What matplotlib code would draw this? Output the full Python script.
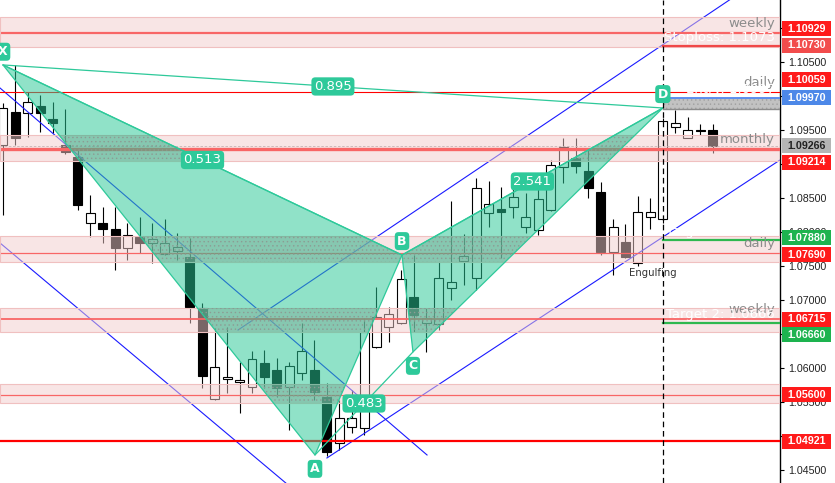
import numpy as np
import matplotlib
matplotlib.use('Agg')
import matplotlib.pyplot as plt
from matplotlib.patches import Rectangle, Polygon

# ---- candles (one per bar, left to right) ----
opens = [1.09275, 1.09760, 1.09746, 1.09849, 1.09657, 1.09275, 1.09099, 1.08128, 1.08128, 1.08040,
         1.07760, 1.07922, 1.07834, 1.07672, 1.07716, 1.07628, 1.06878, 1.05540, 1.05834, 1.05790,
         1.05716, 1.06069, 1.05966, 1.05716, 1.05922, 1.05966, 1.05569, 1.04893, 1.05128, 1.05113,
         1.06304, 1.06599, 1.06657, 1.07040, 1.06657, 1.06643, 1.07172, 1.07569, 1.07319, 1.08275,
         1.08334, 1.08363, 1.08069, 1.08025, 1.08319, 1.08952, 1.09084, 1.08893, 1.08584, 1.07702,
         1.07849, 1.07540, 1.08216, 1.08187, 1.09540, 1.09378, 1.09481, 1.09496]
highs = [1.09893, 1.10452, 1.10054, 1.10010, 1.09907, 1.09805, 1.09202, 1.08540, 1.08363, 1.08363,
         1.08128, 1.08216, 1.08128, 1.08187, 1.07981, 1.07907, 1.06952, 1.06584, 1.06599, 1.06084,
         1.06246, 1.06260, 1.06143, 1.06084, 1.06657, 1.06407, 1.05775, 1.05525, 1.05672, 1.06731,
         1.07187, 1.06893, 1.07437, 1.07657, 1.06878, 1.07554, 1.08452, 1.07966, 1.08790, 1.08746,
         1.08657, 1.08716, 1.08569, 1.08643, 1.09054, 1.09378, 1.09378, 1.09231, 1.08731, 1.08187,
         1.08113, 1.08525, 1.08496, 1.09672, 1.09790, 1.09687, 1.09584, 1.09584]
lows = [1.08246, 1.09275, 1.09393, 1.09466, 1.09452, 1.09143, 1.08319, 1.07922, 1.07834, 1.07437,
        1.07584, 1.07687, 1.07540, 1.07657, 1.07584, 1.06657, 1.05702, 1.05525, 1.05628, 1.05334,
        1.05628, 1.05702, 1.05569, 1.05084, 1.05819, 1.05525, 1.04702, 1.04790, 1.05040, 1.05010,
        1.06290, 1.06378, 1.06643, 1.06525, 1.06231, 1.06554, 1.06996, 1.07216, 1.07143, 1.08069,
        1.07613, 1.08202, 1.07981, 1.07952, 1.08304, 1.08716, 1.08863, 1.08496, 1.07657, 1.07363,
        1.07613, 1.07496, 1.08040, 1.08128, 1.09452, 1.09378, 1.09422, 1.09157]
closes = [1.09819, 1.09378, 1.09907, 1.09746, 1.09599, 1.09172, 1.08393, 1.08275, 1.08040, 1.07760,
          1.07952, 1.07834, 1.07893, 1.07834, 1.07775, 1.06893, 1.05878, 1.06010, 1.05863, 1.05819,
          1.06128, 1.05863, 1.05702, 1.06025, 1.06246, 1.05643, 1.04760, 1.05260, 1.05260, 1.06525,
          1.06746, 1.06790, 1.07304, 1.06775, 1.06731, 1.07319, 1.07260, 1.07643, 1.08643, 1.08407,
          1.08290, 1.08510, 1.08216, 1.08481, 1.08981, 1.09246, 1.08966, 1.08643, 1.07702, 1.08069,
          1.07628, 1.08290, 1.08290, 1.09628, 1.09599, 1.09496, 1.09478, 1.09266]

# ---- support / resistance zones ----
zone_lo = [1.10716, 1.09040, 1.07559, 1.06529, 1.05476]
zone_hi = [1.11157, 1.09422, 1.07937, 1.06874, 1.05760]
red_levels = [1.10929, 1.10059, 1.09214, 1.07690, 1.06715, 1.05600, 1.04921]
red_widths = [1.6, 0.8, 2.4, 0.9, 1.3, 0.9, 1.6]
zone_names = ["weekly", "daily", "monthly", "daily", "weekly"]
zone_name_levels = [1.10929, 1.10059, 1.09214, 1.07690, 1.06715]
current_price = 1.09266

# ---- trade setup ----
stoploss = 1.1073
entry_hi, entry_lo = 1.0997, 1.0980
target1 = 1.0788
target2 = 1.0666

# ---- harmonic pattern XABCD (bar index, price) ----
pat_names = ["X", "A", "B", "C", "D"]
pat_x = [0.0, 25.06, 32.05, 32.93, 53.0]
pat_y = [1.10452, 1.04716, 1.07657, 1.06231, 1.09819]
ratio_legs = [(0, 2, "0.513"), (1, 3, "0.483"), (2, 4, "2.541"), (0, 4, "0.895")]

# ---- trend lines (bar index, price) ----
trend_lines = [
    ((-0.24, 1.10113), (34.06, 1.04716)),
    ((-0.24, 1.07834), (23.86, 1.04128)),
    ((18.88, 1.06554), (62.41, 1.11907)),
    ((26.02, 1.04672), (62.41, 1.09054)),
]

# ---- price labels on the axis ----
label_vals = [1.10929, 1.10730, 1.10059, 1.09970, 1.09266, 1.09214,
              1.07880, 1.07690, 1.06715, 1.06660, 1.05600, 1.04921]
label_cols = ['#ff1a1a', '#f24c4c', '#ff1a1a', '#4d88e8', '#b5b5b5', '#ff1a1a',
              '#1db34f', '#ff1a1a', '#ff1a1a', '#1db34f', '#ff1a1a', '#ff1a1a']
label_shift_px = [-4, -1, -12, 0, 0, 13, -2, 2, 0, 12, 0, 0]
tick_vals = np.round(np.arange(1.045, 1.1101, 0.005), 3)
hidden_ticks = [1.050, 1.065, 1.090, 1.100, 1.110]   # sit fully under a price tag

W, H = 835, 483
ymin, ymax = 1.04304, 1.11407
xmin, xmax = -0.24, 62.41
px = (ymax - ymin) / H   # price per pixel

fig = plt.figure(figsize=(W / 100, H / 100), dpi=100)
ax = fig.add_axes([0, 0, 780 / W, 1])
ax.set_xlim(xmin, xmax)
ax.set_ylim(ymin, ymax)

# candles
bw = 0.72
for i in range(len(opens)):
    o, h, l, c = opens[i], highs[i], lows[i], closes[i]
    ax.plot([i, i], [l, h], color='black', lw=0.8, zorder=2, solid_capstyle='butt')
    up = c >= o
    bot = min(o, c)
    ht = max(abs(c - o), px)
    ax.add_patch(Rectangle((i - bw / 2, bot), bw, ht, facecolor='white' if up else 'black',
                           edgecolor='black', lw=0.8, zorder=2.1))

# trend lines
for (x0, y0), (x1, y1) in trend_lines:
    ax.plot([x0, x1], [y0, y1], color='#1a1aff', lw=0.8, zorder=2.5)

# red levels
for lv, lw in zip(red_levels, red_widths):
    ax.axhline(lv, color='#ff0000', lw=lw, zorder=2.6)
ax.axhline(current_price, color='#9a9a9a', lw=0.6, ls=(0, (3, 2)), zorder=2.6)

# zones
for lo, hi in zip(zone_lo, zone_hi):
    ax.add_patch(Rectangle((xmin, lo), xmax - xmin, hi - lo, facecolor='#f3cccc',
                           alpha=0.5, edgecolor='none', zorder=3))
    ax.add_patch(Rectangle((xmin, lo), xmax - xmin, hi - lo, facecolor='none',
                           edgecolor='#f0c0c0', lw=0.8, zorder=3))

# harmonic pattern
green = '#2ac897'
edge = '#2ec99a'
plt.rcParams['hatch.linewidth'] = 0.5
for tri in [(0, 1, 2), (2, 3, 4)]:
    pts = [(pat_x[k], pat_y[k]) for k in tri]
    tri_patch = Polygon(pts, closed=True, facecolor=green, alpha=0.52, edgecolor='none', zorder=4)
    ax.add_patch(tri_patch)
    ax.add_patch(Polygon(pts, closed=True, facecolor='none', edgecolor=edge, lw=0.9, zorder=4.5))
    # dotted grey look where the pattern covers a zone
    for lo, hi in zip(zone_lo, zone_hi):
        r = Rectangle((xmin, lo), xmax - xmin, hi - lo, facecolor=(0.4, 0.45, 0.42, 0.14),
                      edgecolor='#8c9c94', hatch='....', lw=0, zorder=4.2)
        ax.add_patch(r)
        r.set_clip_path(tri_patch)
for a, b, txt in ratio_legs:
    ax.plot([pat_x[a], pat_x[b]], [pat_y[a], pat_y[b]], color=edge, lw=0.9, zorder=4.5)
    mx = (pat_x[a] + pat_x[b]) / 2
    my = (pat_y[a] + pat_y[b]) / 2
    ax.text(mx, my, txt, ha='center', va='center', color='white', fontsize=9.5, zorder=7,
            bbox=dict(boxstyle='round,pad=0.2,rounding_size=0.3', fc=edge, ec='none'))
for k, name in enumerate(pat_names):
    dy = -10 if name in ("A", "C") else 10
    if name == "X":
        dy = 9.5
    ax.annotate(name, (pat_x[k], pat_y[k]), xytext=(0, dy), textcoords='offset points',
                ha='center', va='center', color='white', fontsize=9, fontweight='bold', zorder=7,
                bbox=dict(boxstyle='round,pad=0.2,rounding_size=0.3', fc=edge, ec='none'))

# trade setup on the right
d_x = pat_x[4]
ax.axvline(d_x, color='black', lw=0.9, ls=(0, (4.5, 3)), zorder=6)
ax.add_patch(Rectangle((d_x, entry_lo), xmax - d_x, entry_hi - entry_lo, facecolor='#c2c2c2',
                       edgecolor='#a0a0a0', hatch='....', lw=0, zorder=5))
ax.plot([d_x, xmax], [entry_lo, entry_lo], color='#8c8c8c', lw=1.0, zorder=5)
ax.plot([d_x, xmax], [entry_hi, entry_hi], color='#5b8def', lw=1.4, zorder=5)
ax.plot([d_x, xmax], [stoploss, stoploss], color='#f04848', lw=1.6, zorder=5)
ax.plot([d_x, xmax], [target1, target1], color='#2eb84f', lw=1.6, zorder=5)
ax.plot([d_x, xmax], [target2, target2], color='#2eb84f', lw=1.6, zorder=5)

txt_x = 62.0
for name, lv in zip(zone_names, zone_name_levels):
    ax.annotate(name, (txt_x, lv), xytext=(0, 2), textcoords='offset points', ha='right',
                va='bottom', color='#8c8c8c', fontsize=9.5, zorder=6)
for txt, lv in [(f"Stoploss: {stoploss}", stoploss), (f"Entry: {entry_hi}", entry_hi),
                (f"Target 1: {target1}", target1), (f"Target 2: {target2}", target2)]:
    ax.annotate(txt, (txt_x, lv), xytext=(0, 1.5), textcoords='offset points', ha='right',
                va='bottom', color='white', fontsize=9.5, zorder=6.5)

ax.annotate("Engulfing", (51, lows[51]), xytext=(11, -5), textcoords='offset points',
            ha='center', va='center', fontsize=7.3, color='#333333', zorder=7)

# axis styling
for s in ['left', 'top', 'bottom']:
    ax.spines[s].set_visible(False)
ax.spines['right'].set_color('black')
ax.spines['right'].set_linewidth(1.0)
ax.set_xticks([])
ax.yaxis.tick_right()
ax.set_yticks(tick_vals)
ax.set_yticklabels(["" if t in hidden_ticks else f"{t:.5f}" for t in tick_vals])
ax.tick_params(axis='y', direction='out', length=3, width=0.8, pad=3, labelsize=7.7,
               labelcolor='#222222', labelfontfamily='Liberation Sans')

# coloured price tags
ax2 = fig.add_axes([780 / W, 0, 55 / W, 1])
ax2.set_xlim(0, 55)
ax2.set_ylim(ymin, ymax)
ax2.axis('off')
for v, col, sh in zip(label_vals, label_cols, label_shift_px):
    cy = v - sh * px
    ax2.add_patch(Rectangle((2, cy - 7.5 * px), 49, 15 * px, facecolor=col, edgecolor='none'))
    tc = '#222222' if col == '#b5b5b5' else 'white'
    ax2.text(26.5, cy, f"{v:.5f}", ha='center', va='center', color=tc, fontsize=7.7,
             fontweight='bold', family='Liberation Sans')

fig.savefig('out.png', dpi=100)
